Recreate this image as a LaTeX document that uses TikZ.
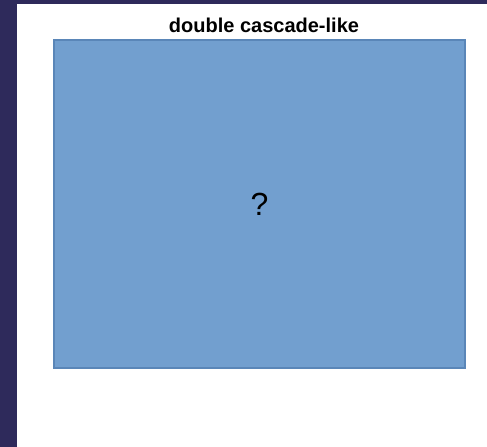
\documentclass[tikz,border=0pt]{standalone}
\usepackage{fontspec}
\setmainfont{Liberation Sans}
\usepackage{tikz}

\definecolor{navy}{HTML}{2E2A5B}
\definecolor{panelblue}{HTML}{729FCF}
\definecolor{paneledge}{HTML}{5A86B8}

\begin{document}
\begin{tikzpicture}[x=0.75pt, y=-0.75pt,
  panel/.style={draw=paneledge, fill=panelblue, line width=0.8pt, minimum width=308.25pt, minimum height=246pt, inner sep=0pt, font=\fontsize{24}{28}\selectfont},
  heading/.style={font=\bfseries\fontsize{15}{18}\selectfont, anchor=base}]
  \useasboundingbox (0,0) rectangle (487,447);
  \fill[navy] (0,0) rectangle (487,447);
  \fill[white] (17,4) rectangle (487,447);
  \node[panel] (box) at (259.5,204) {?};
  \node[heading] (title) at (264,32) {double cascade-like};
\end{tikzpicture}
\end{document}
